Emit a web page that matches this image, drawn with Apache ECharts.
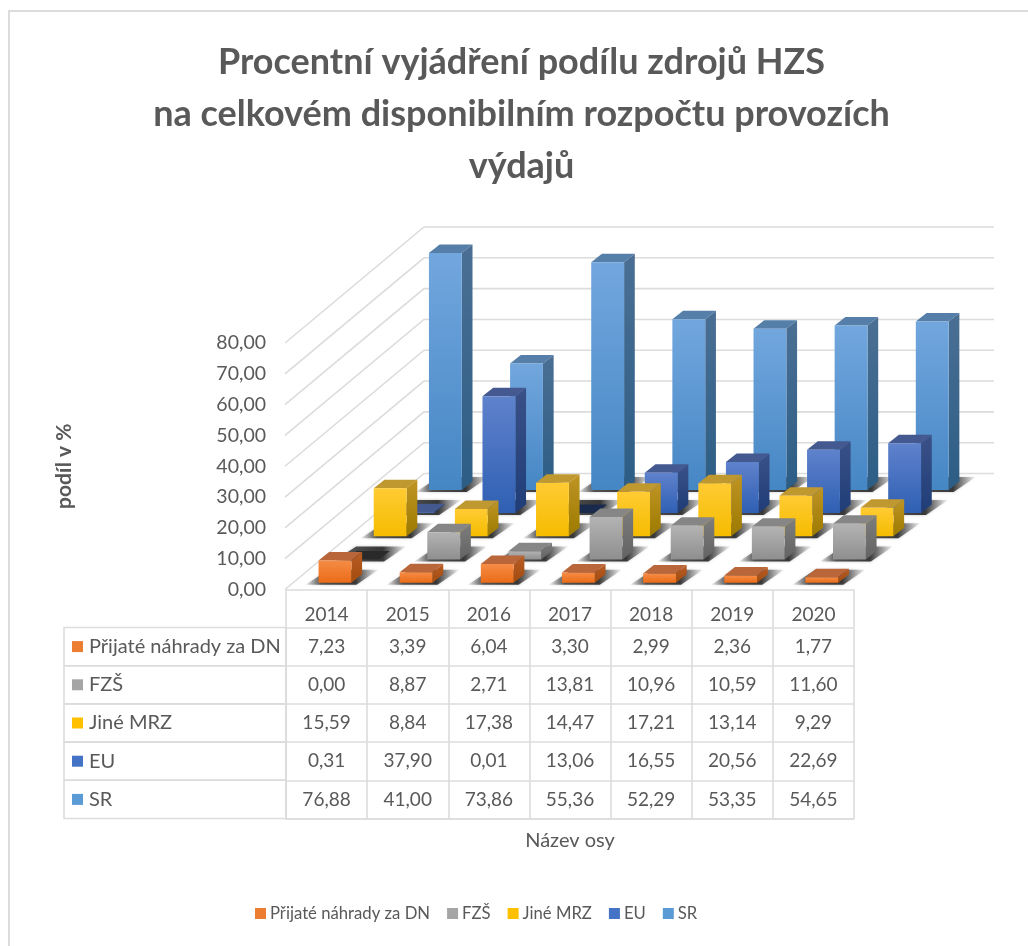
<!DOCTYPE html>
<html><head><meta charset="utf-8">
<style>html,body{margin:0;padding:0;background:#fff}#c{width:1028px;height:946px}</style>
<script src="https://cdn.jsdelivr.net/npm/echarts@6/dist/echarts.min.js"></script>
</head><body><div id="c"></div>
<script>
const titleText = 'Procentní vyjádření podílu zdrojů HZS\nna celkovém disponibilním rozpočtu provozích\nvýdajů';
const categories = ['2014','2015','2016','2017','2018','2019','2020'];
const yTicks = [0,10,20,30,40,50,60,70,80];
const seriesNames = ['Přijaté náhrady za DN','FZŠ','Jiné MRZ','EU','SR'];
const nahrady = [7.23,3.39,6.04,3.30,2.99,2.36,1.77];
const fzs = [0.00,8.87,2.71,13.81,10.96,10.59,11.60];
const jineMrz = [15.59,8.84,17.38,14.47,17.21,13.14,9.29];
const eu = [0.31,37.90,0.01,13.06,16.55,20.56,22.69];
const sr = [76.88,41.00,73.86,55.36,52.29,53.35,54.65];
const seriesValues = [nahrady,fzs,jineMrz,eu,sr];

const palette = [
 {c:'#ed7d31',f:['#f68c46','#ea6c17'],s:['#b85c26','#a24c0e'],t:'#b8663a'},
 {c:'#a5a5a5',f:['#b3b3b3','#8f8f8f'],s:['#7d7d7d','#636363'],t:'#868686'},
 {c:'#ffc000',f:['#ffcb33','#f5bc00'],s:['#bf9424','#9c7a00'],t:'#c09830'},
 {c:'#4472c4',f:['#5f82cc','#2f5fb3'],s:['#3a5187','#1f3d78'],t:'#44598f'},
 {c:'#5b9bd5',f:['#72a7de','#4586c4'],s:['#4b6f94','#2c5d85'],t:'#557ea8'}
];
const STEP_X=27.6, STEP_Y=-23.2, START_X=8.4, START_Y=-6.8, DEPTH_X=10.7, DEPTH_Y=-8.5, BAR_W=0.405;
const TEXT='#595959', LINE='#dcdcdc', FONT='Lato';
const fmt=v=>v.toFixed(2).replace('.',',');
const grad=(a,b)=>({type:'linear',x:0,y:0,x2:0,y2:1,colorStops:[{offset:0,color:a},{offset:1,color:b}]});

function barRender(si){
  return function(params,api){
    const idx=api.value(0), val=api.value(1);
    const base=api.coord([idx,0]), top=api.coord([idx,val]);
    const bw=api.size([1,0])[0]*BAR_W;
    const ox=START_X+si*STEP_X, oy=START_Y+si*STEP_Y;
    const x0=base[0]-bw/2+ox, x1=x0+bw, yb=base[1]+oy, yt=top[1]+oy;
    const p=palette[si];
    const flat=val<0.1;
    const topCol=flat?(si===1?'#2a2a2a':'#1a2a4d'):p.t;
    const children=[
      {type:'polygon',silent:true,shape:{points:[[x0-13,yb+2],[x1+5,yb+2],[x1+27,yb-13],[x0+10,yb-13]]},
       style:{fill:{type:'linear',x:0,y:0,x2:1,y2:0,colorStops:[{offset:0,color:'rgba(70,70,70,0.08)'},{offset:0.22,color:'rgba(40,40,40,0.75)'},{offset:0.68,color:'rgba(30,30,30,0.85)'},{offset:1,color:'rgba(90,90,90,0.05)'}]},shadowBlur:3,shadowColor:'rgba(0,0,0,0.3)'}},
      {type:'polygon',shape:{points:[[x0,yt],[x1,yt],[x1+DEPTH_X,yt+DEPTH_Y],[x0+DEPTH_X,yt+DEPTH_Y]]},style:{fill:topCol}}
    ];
    if(yb-yt>0.5){
      children.push({type:'polygon',shape:{points:[[x1,yt],[x1+DEPTH_X,yt+DEPTH_Y],[x1+DEPTH_X,yb+DEPTH_Y],[x1,yb]]},style:{fill:grad(p.s[0],p.s[1])}});
      children.push({type:'rect',shape:{x:x0,y:yt,width:bw,height:yb-yt},style:{fill:grad(p.f[0],p.f[1])}});
    }
    return {type:'group',children};
  };
}

const barSeries=seriesNames.map((name,si)=>({
  name,type:'custom',coordinateSystem:'cartesian2d',xAxisIndex:0,yAxisIndex:0,
  itemStyle:{color:palette[si].c},
  renderItem:barRender(si),
  data:seriesValues[si].map((v,i)=>[i,v])
})).reverse();

const wallSeries={type:'custom',coordinateSystem:'cartesian2d',xAxisIndex:0,yAxisIndex:0,silent:true,
  data:yTicks.map(v=>[0,v]),
  renderItem(params,api){
    const cs=params.coordSys, y=api.coord([0,api.value(1)])[1];
    const dx=STEP_X*5, dy=STEP_Y*5;
    return {type:'polyline',shape:{points:[[cs.x-1,y],[cs.x+dx,y+dy],[cs.x+cs.width+dx+2,y+dy]]},style:{fill:'none',stroke:LINE,lineWidth:1.6}};
  }};

const rowFrame={type:'custom',coordinateSystem:'cartesian2d',xAxisIndex:1,yAxisIndex:1,silent:true,
  data:seriesNames.map((n,i)=>[0,i]),
  renderItem(params,api){
    const cs=params.coordSys,h=api.size([0,1])[1],y=api.coord([0,api.value(1)])[1];
    return {type:'rect',shape:{x:cs.x-222,y:y-h/2,width:222,height:h},style:{fill:'none',stroke:LINE,lineWidth:1.6}};
  }};

const cellData=[];
seriesValues.forEach((vals,r)=>vals.forEach((v,c)=>cellData.push([c,r,v])));
const cellSeries={type:'custom',coordinateSystem:'cartesian2d',xAxisIndex:1,yAxisIndex:1,silent:true,
  data:cellData,
  renderItem(params,api){
    const p=api.coord([api.value(0),api.value(1)]);
    return {type:'text',x:p[0],y:p[1],style:{text:fmt(api.value(2)),fill:TEXT,font:'19px '+FONT,align:'center',verticalAlign:'middle'}};
  }};

const rich={n:{color:TEXT,fontFamily:FONT,fontSize:20,padding:[0,0,0,6]}};
palette.forEach((p,i)=>{rich['s'+i]={width:11,height:11,backgroundColor:p.c};});

const option={
  animation:false,backgroundColor:'#fff',
  textStyle:{fontFamily:FONT,color:TEXT},
  graphic:[
    {type:'polyline',silent:true,shape:{points:[[1028,11],[9,11],[9,946]]},style:{fill:'none',stroke:'#dcdcdc',lineWidth:2}}
  ],
  title:{text:titleText,left:516.5,top:31,textAlign:'center',textStyle:{fontFamily:FONT,fontWeight:700,fontSize:36,lineHeight:52,color:TEXT}},
  legend:{data:seriesNames,left:250,top:900,itemWidth:11,itemHeight:11,itemGap:17,icon:'rect',selectedMode:false,
    textStyle:{fontFamily:FONT,fontSize:16.7,color:TEXT,padding:[0,0,0,-1]}},
  grid:[{left:286,width:568,top:343,height:246.5},{left:286,width:568,top:627.5,height:191}],
  xAxis:[
    {gridIndex:0,type:'category',data:categories,position:'bottom',
     axisLine:{show:true,lineStyle:{color:LINE,width:1.6}},
     axisTick:{show:true,length:37.5,lineStyle:{color:LINE,width:1.6}},
     axisLabel:{margin:16,fontFamily:FONT,fontSize:19,color:TEXT},splitLine:{show:false}},
    {gridIndex:1,type:'category',data:categories,position:'bottom',name:'Název osy',nameLocation:'middle',nameGap:12,
     nameTextStyle:{fontFamily:FONT,fontSize:20,color:TEXT},
     axisLine:{show:true,lineStyle:{color:LINE,width:1.6}},axisTick:{show:false},axisLabel:{show:false},
     splitLine:{show:true,lineStyle:{color:LINE,width:1.6}}}
  ],
  yAxis:[
    {gridIndex:0,type:'value',min:0,max:80,interval:10,name:'podíl v %',nameLocation:'middle',nameRotate:90,nameGap:211,
     nameTextStyle:{fontFamily:FONT,fontWeight:700,fontSize:21,color:TEXT},
     axisLine:{show:false},axisTick:{show:false},splitLine:{show:false},
     axisLabel:{margin:20,fontFamily:FONT,fontSize:19.5,color:TEXT,padding:[4,0,0,0],formatter:v=>fmt(v)}},
    {gridIndex:1,type:'category',data:seriesNames,inverse:true,
     axisLine:{show:true,lineStyle:{color:LINE,width:1.6}},axisTick:{show:false},
     splitLine:{show:true,lineStyle:{color:LINE,width:1.6}},
     axisLabel:{margin:214,align:'left',rich,formatter:(v,i)=>`{s${i}|}{n|${v}}`}}
  ],
  series:[wallSeries,...barSeries,rowFrame,cellSeries]
};
const chart=echarts.init(document.getElementById('c'),null,{renderer:'canvas'});
chart.setOption(option);
</script></body></html>
